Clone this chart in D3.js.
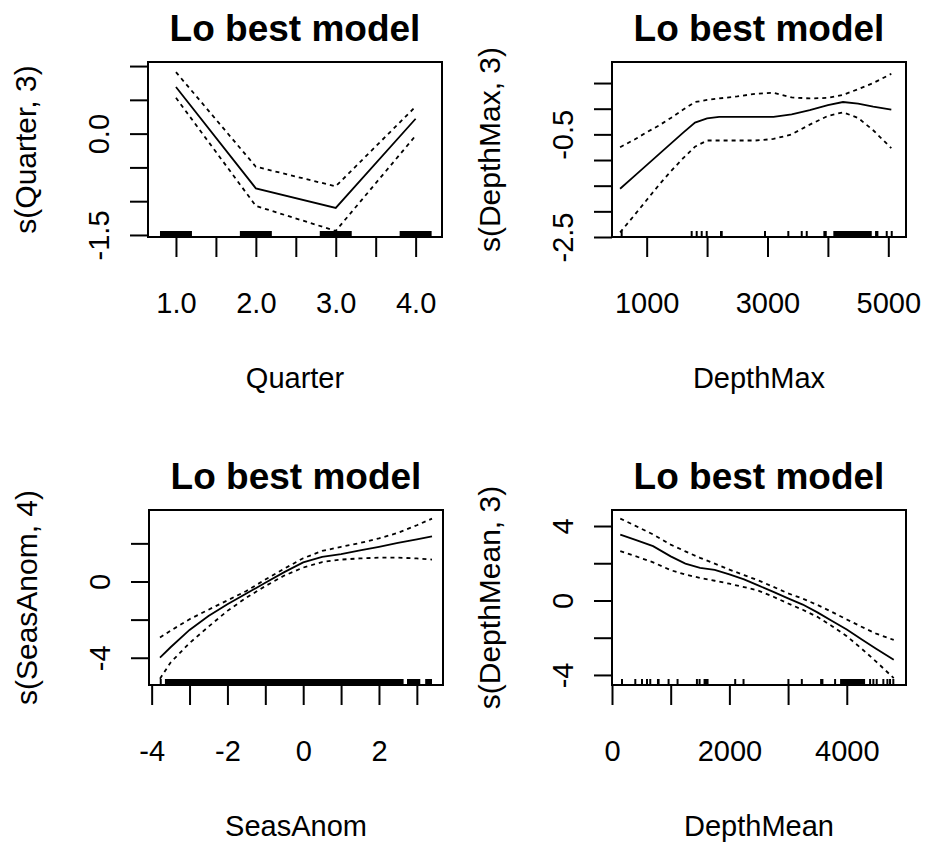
<!DOCTYPE html>
<html>
<head>
<meta charset="utf-8">
<script src="https://cdn.jsdelivr.net/npm/d3@7"></script>
<style>
  html, body { margin: 0; padding: 0; background: #fff; }
  svg { display: block; }
  text { font-family: "Liberation Sans", Arial, sans-serif; fill: #000; }
</style>
</head>
<body>
<svg id="chart" width="925" height="846"></svg>
<script>
// ---------------- DATA ----------------
const titleText = "Lo best model";

// Panel 1: Quarter
const quarterX     = [1, 2, 3, 4];
const quarterFit   = [0.69, -0.81, -1.10, 0.22];
const quarterUpper = [0.91, -0.49, -0.78, 0.40];
const quarterLower = [0.53, -1.07, -1.44, -0.03];
const quarterRugBands = [[0.80, 1.20], [1.80, 2.20], [2.80, 3.20], [3.80, 4.20]];
const quarterRugTicks = [];
const quarterXTicks = [1, 1.5, 2, 2.5, 3, 3.5, 4];
const quarterXLabels = {"1": "1.0", "2": "2.0", "3": "3.0", "4": "4.0"};
const quarterYTicks = [-1.5, -1, -0.5, 0, 0.5, 1];
const quarterYLabels = {"0": "0.0", "-1.5": "-1.5"};

// Panel 2: DepthMax
const depthMaxX     = [560, 800, 1000, 1200, 1400, 1600, 1800, 2000, 2200, 2500, 2800, 3100, 3400, 3700, 4000, 4250, 4500, 4750, 5050];
const depthMaxFit   = [-1.56, -1.31, -1.10, -0.89, -0.68, -0.47, -0.27, -0.19, -0.16, -0.16, -0.16, -0.16, -0.11, -0.03, 0.07, 0.13, 0.10, 0.04, -0.02];
const depthMaxUpper = [-0.75, -0.60, -0.46, -0.33, -0.18, -0.02, 0.13, 0.17, 0.20, 0.24, 0.29, 0.31, 0.22, 0.20, 0.21, 0.27, 0.38, 0.50, 0.68];
const depthMaxLower = [-2.41, -2.07, -1.78, -1.49, -1.22, -0.97, -0.74, -0.62, -0.62, -0.62, -0.62, -0.59, -0.50, -0.31, -0.14, -0.07, -0.18, -0.42, -0.77];
const depthMaxRugBands = [[2214, 2259], [3925, 3981], [4090, 4726], [4781, 4836]];
const depthMaxRugTicks = [586, 1745, 1828, 1911, 1994, 2959, 3345, 3567, 3650, 4974, 5057];
const depthMaxXTicks = [1000, 2000, 3000, 4000, 5000];
const depthMaxXLabels = {"1000": "1000", "3000": "3000", "5000": "5000"};
const depthMaxYTicks = [-2.5, -2, -1.5, -1, -0.5, 0, 0.5];
const depthMaxYLabels = {"-0.5": "-0.5", "-2.5": "-2.5"};

// Panel 3: SeasAnom
const seasAnomX     = [-3.78, -3.5, -3.0, -2.5, -2.0, -1.5, -1.0, -0.5, 0.0, 0.5, 1.0, 1.5, 2.0, 2.5, 3.0, 3.4];
const seasAnomFit   = [-3.99, -3.45, -2.54, -1.81, -1.19, -0.63, -0.07, 0.49, 1.00, 1.29, 1.44, 1.63, 1.82, 2.02, 2.21, 2.37];
const seasAnomUpper = [-2.94, -2.58, -1.98, -1.48, -0.99, -0.50, 0.10, 0.67, 1.22, 1.60, 1.82, 2.02, 2.26, 2.55, 2.95, 3.30];
const seasAnomLower = [-5.10, -4.25, -3.23, -2.37, -1.54, -0.85, -0.24, 0.31, 0.73, 1.02, 1.15, 1.21, 1.25, 1.25, 1.21, 1.15];
const seasAnomRugBands = [[-3.65, 2.65], [2.74, 3.09], [3.22, 3.40]];
const seasAnomRugTicks = [-3.76];
const seasAnomXTicks = [-4, -3, -2, -1, 0, 1, 2, 3];
const seasAnomXLabels = {"-4": "-4", "-2": "-2", "0": "0", "2": "2"};
const seasAnomYTicks = [-4, -2, 0, 2];
const seasAnomYLabels = {"-4": "-4", "0": "0"};

// Panel 4: DepthMean
const depthMeanX     = [141, 400, 700, 1000, 1250, 1500, 1750, 2000, 2250, 2500, 2750, 3000, 3250, 3500, 3750, 4000, 4250, 4500, 4800];
const depthMeanFit   = [3.54, 3.26, 2.92, 2.37, 1.98, 1.75, 1.64, 1.40, 1.13, 0.80, 0.46, 0.11, -0.22, -0.64, -1.10, -1.56, -2.08, -2.59, -3.18];
const depthMeanUpper = [4.40, 4.01, 3.55, 3.00, 2.64, 2.29, 1.98, 1.66, 1.36, 1.07, 0.73, 0.38, 0.10, -0.24, -0.62, -1.02, -1.41, -1.78, -2.12];
const depthMeanLower = [2.65, 2.38, 2.05, 1.63, 1.39, 1.21, 1.06, 0.90, 0.72, 0.52, 0.20, -0.16, -0.50, -0.88, -1.38, -1.92, -2.58, -3.28, -4.17];
const depthMeanRugBands = [[766, 811], [1560, 1645], [3546, 3602], [3886, 4312]];
const depthMeanRugTicks = [170, 397, 511, 596, 652, 964, 1117, 1447, 1492, 2099, 2241, 3006, 3234, 3801, 4397, 4453, 4510, 4623, 4692, 4737, 4793];
const depthMeanXTicks = [0, 1000, 2000, 3000, 4000];
const depthMeanXLabels = {"0": "0", "2000": "2000", "4000": "4000"};
const depthMeanYTicks = [-4, -2, 0, 2, 4];
const depthMeanYLabels = {"-4": "-4", "0": "0", "4": "4"};

// ---------------- LAYOUT ----------------
const panels = [
  { left: 148, top: 62, xDom: [0.65, 4.33], yDom: [-1.53, 1.06],
    x: quarterX, fit: quarterFit, up: quarterUpper, lo: quarterLower,
    bands: quarterRugBands, ticks: quarterRugTicks,
    xt: quarterXTicks, xl: quarterXLabels, yt: quarterYTicks, yl: quarterYLabels,
    xlab: "Quarter", ylab: "s(Quarter, 3)" },
  { left: 612, top: 62, xDom: [426, 5293], yDom: [-2.5, 0.91],
    x: depthMaxX, fit: depthMaxFit, up: depthMaxUpper, lo: depthMaxLower,
    bands: depthMaxRugBands, ticks: depthMaxRugTicks,
    xt: depthMaxXTicks, xl: depthMaxXLabels, yt: depthMaxYTicks, yl: depthMaxYLabels,
    xlab: "DepthMax", ylab: "s(DepthMax, 3)" },
  { left: 149, top: 510, xDom: [-4.07, 3.69], yDom: [-5.43, 3.75],
    x: seasAnomX, fit: seasAnomFit, up: seasAnomUpper, lo: seasAnomLower,
    bands: seasAnomRugBands, ticks: seasAnomRugTicks,
    xt: seasAnomXTicks, xl: seasAnomXLabels, yt: seasAnomYTicks, yl: seasAnomYLabels,
    xlab: "SeasAnom", ylab: "s(SeasAnom, 4)" },
  { left: 612, top: 510, xDom: [0, 5009], yDom: [-4.54, 4.86],
    x: depthMeanX, fit: depthMeanFit, up: depthMeanUpper, lo: depthMeanLower,
    bands: depthMeanRugBands, ticks: depthMeanRugTicks,
    xt: depthMeanXTicks, xl: depthMeanXLabels, yt: depthMeanYTicks, yl: depthMeanYLabels,
    xlab: "DepthMean", ylab: "s(DepthMean, 3)" }
];
const W = 294, H = 175;

const svg = d3.select("#chart");

panels.forEach(p => {
  const g = svg.append("g").attr("transform", `translate(${p.left},${p.top})`);
  const xs = d3.scaleLinear().domain(p.xDom).range([0, W]);
  const ys = d3.scaleLinear().domain(p.yDom).range([H, 0]);

  // axes
  const xAxis = d3.axisBottom(xs).tickValues(p.xt).tickSize(20).tickSizeOuter(0)
    .tickFormat(d => p.xl[String(d)] || "");
  const gx = g.append("g").attr("transform", `translate(0,${H})`).call(xAxis);
  const yAxis = d3.axisLeft(ys).tickValues(p.yt).tickSize(18).tickSizeOuter(0)
    .tickFormat(d => p.yl[String(d)] || "");
  const gy = g.append("g").call(yAxis);
  [gx, gy].forEach(a => {
    a.select(".domain").remove();
    a.selectAll(".tick line").attr("stroke", "#000").attr("stroke-width", 2);
    a.selectAll("text").attr("font-size", 29).attr("font-family", "Liberation Sans, Arial, sans-serif").attr("fill", "#000");
  });
  gx.selectAll(".tick text").attr("y", 76).attr("dy", 0);
  gy.selectAll(".tick text").attr("x", 0).attr("dy", 0).attr("y", 0)
    .attr("text-anchor", "middle").attr("transform", "translate(-39,0) rotate(-90)");

  // rug
  g.selectAll("rect.band").data(p.bands).enter().append("rect")
    .attr("x", d => xs(d[0])).attr("width", d => xs(d[1]) - xs(d[0]))
    .attr("y", H - 6).attr("height", 6).attr("fill", "#000");
  g.selectAll("line.rug").data(p.ticks).enter().append("line")
    .attr("x1", d => xs(d)).attr("x2", d => xs(d))
    .attr("y1", H - 6).attr("y2", H).attr("stroke", "#000").attr("stroke-width", 2);

  // curves
  const line = d3.line().x(d => xs(d[0])).y(d => ys(d[1]));
  const clipId = "clip" + p.left + "_" + p.top;
  g.append("clipPath").attr("id", clipId).append("rect").attr("width", W).attr("height", H);
  const cg = g.append("g").attr("clip-path", `url(#${clipId})`);
  cg.append("path").datum(p.x.map((v, i) => [v, p.fit[i]])).attr("d", line)
    .attr("fill", "none").attr("stroke", "#000").attr("stroke-width", 1.8);
  [p.up, p.lo].forEach(arr => {
    cg.append("path").datum(p.x.map((v, i) => [v, arr[i]])).attr("d", line)
      .attr("fill", "none").attr("stroke", "#000").attr("stroke-width", 1.8)
      .attr("stroke-dasharray", "4,4");
  });

  // box
  g.append("rect").attr("width", W).attr("height", H).attr("fill", "none")
    .attr("stroke", "#000").attr("stroke-width", 2);

  // title
  g.append("text").attr("x", W / 2).attr("y", -21).attr("text-anchor", "middle")
    .attr("font-size", 37).attr("font-weight", "bold").text(titleText);
  // x label
  g.append("text").attr("x", W / 2).attr("y", H + 151).attr("text-anchor", "middle")
    .attr("font-size", 29).text(p.xlab);
  // y label
  g.append("text").attr("text-anchor", "middle").attr("font-size", 30)
    .attr("transform", `translate(-112,${H / 2}) rotate(-90)`).text(p.ylab);
});
</script>
</body>
</html>
